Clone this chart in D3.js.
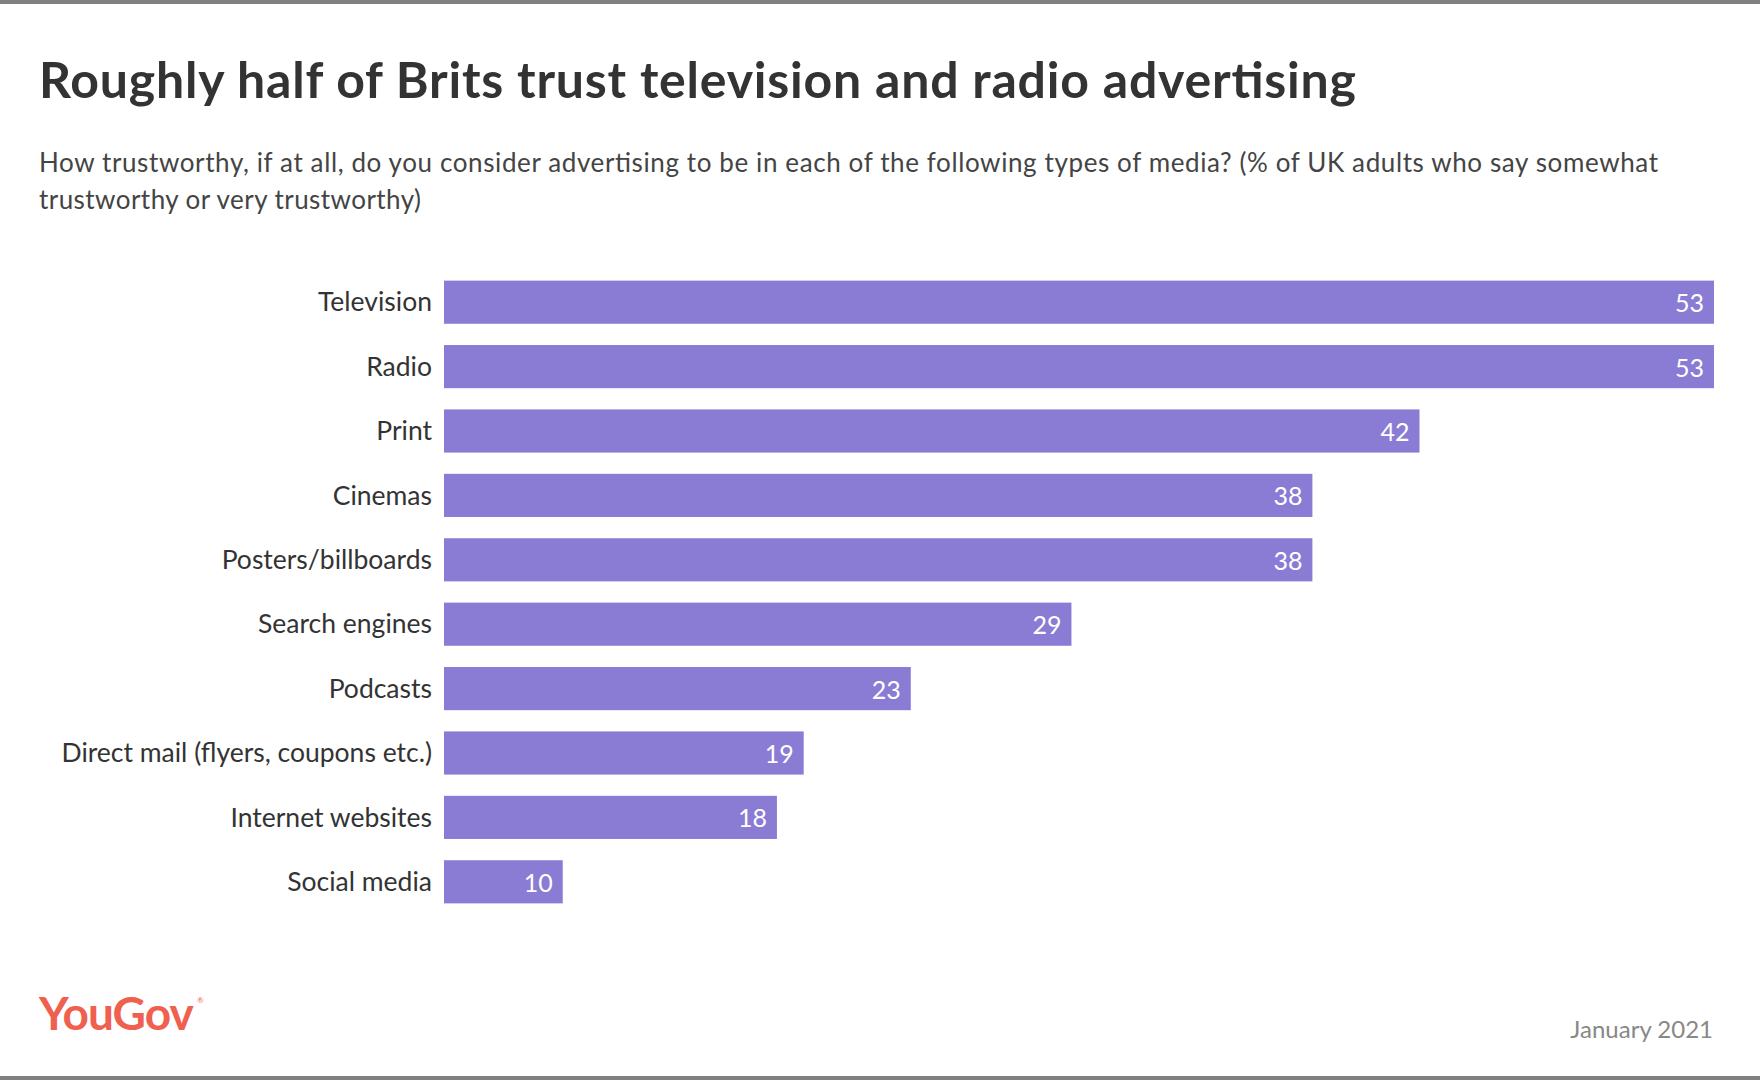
<!DOCTYPE html>
<html><head><meta charset="utf-8">
<script src="https://cdn.jsdelivr.net/npm/d3@7"></script>
<style>body{margin:0;background:#fff}svg{display:block;font-family:Lato,"Open Sans",sans-serif}</style>
</head><body><svg id="chart"></svg>
<script>
const categories = ["Television","Radio","Print","Cinemas","Posters/billboards","Search engines","Podcasts","Direct mail (flyers, coupons etc.)","Internet websites","Social media"];
const values = [53,53,42,38,38,29,23,19,18,10];

const W = 1760, H = 1080;
const svg = d3.select("#chart").attr("width", W).attr("height", H);

// frame lines
svg.append("rect").attr("x",0).attr("y",0).attr("width",W).attr("height",4).attr("fill","#808080");
svg.append("rect").attr("x",0).attr("y",H-4).attr("width",W).attr("height",4).attr("fill","#808080");

// titles
svg.append("text").attr("x",39).attr("y",98).attr("font-size",50).attr("font-weight",700)
  .attr("fill","#333").attr("textLength",1317).attr("lengthAdjust","spacing")
  .text("Roughly half of Brits trust television and radio advertising");
const sub = svg.append("text").attr("x",39).attr("y",172).attr("font-size",26).attr("fill","#444");
sub.append("tspan").attr("x",39).attr("textLength",1619).attr("lengthAdjust","spacing")
  .text("How trustworthy, if at all, do you consider advertising to be in each of the following types of media? (% of UK adults who say somewhat");
sub.append("tspan").attr("x",39).attr("dy",37).attr("textLength",382).attr("lengthAdjust","spacing")
  .text("trustworthy or  very trustworthy)");

// scales (the chart's value axis origin sits left of where bars begin)
const x = d3.scaleLinear().domain([0,53]).range([295,1714]);
const barStart = 444;
const y = d3.scaleBand().domain(categories).range([270,914]).paddingInner(0.33).paddingOuter(0.165);

const g = svg.append("g");
g.selectAll("rect.bar").data(categories).enter().append("rect")
  .attr("class","bar")
  .attr("x", barStart)
  .attr("y", d => y(d))
  .attr("width", (d,i) => x(values[i]) - barStart)
  .attr("height", y.bandwidth())
  .attr("fill","#8a7cd4");

g.selectAll("text.cat").data(categories).enter().append("text")
  .attr("x", 432)
  .attr("y", d => y(d) + y.bandwidth()/2)
  .attr("dy","0.35em")
  .attr("text-anchor","end")
  .attr("font-size",26.5)
  .attr("fill","#333")
  .text(d => d);

g.selectAll("text.val").data(categories).enter().append("text")
  .attr("x", (d,i) => x(values[i]) - 10)
  .attr("y", d => y(d) + y.bandwidth()/2)
  .attr("dy","0.4em")
  .attr("text-anchor","end")
  .attr("font-size",25)
  .attr("fill","#fff")
  .text((d,i) => values[i]);

// footer
svg.append("text").attr("x",39).attr("y",1030).attr("font-size",46).attr("font-weight",700)
  .attr("fill","#f0604f").attr("letter-spacing",-1).text("YouGov");
svg.append("text").attr("x",197).attr("y",1003).attr("font-size",8).attr("fill","#f0604f").text("®");
svg.append("text").attr("x",1713).attr("y",1038).attr("text-anchor","end").attr("font-size",24)
  .attr("fill","#888").text("January 2021");
</script></body></html>
